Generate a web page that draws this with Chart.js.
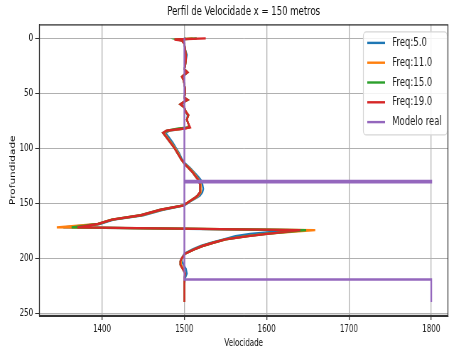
<!DOCTYPE html>
<html>
<head>
<meta charset="utf-8">
<script src="https://cdn.jsdelivr.net/npm/chart.js@4.4.0/dist/chart.umd.min.js"></script>
<style>
  html, body { margin: 0; padding: 0; background: #fff; overflow: hidden; }
  /* the reference figure is horizontally squeezed; draw wide and compress */
  canvas { display: block; transform: scaleX(0.7104); transform-origin: 0 0; }
</style>
</head>
<body>
<canvas id="perfilChart" width="632" height="352"></canvas>
<script>
// Depth samples (shared by the inverted profiles)
const depth = [0, 1, 2, 5, 10, 15, 20, 25, 28, 31, 33, 35, 38, 42, 46, 50, 54, 56, 58, 60,
    63, 67, 70, 74, 78, 81, 82, 84, 86, 90, 95, 100, 105, 110, 114, 118, 122, 126, 129, 133,
    137, 140, 143, 145, 148, 152, 156, 161, 165, 169, 172, 174.5, 178, 180, 183, 186, 189, 192, 196, 200,
    203, 206, 210, 214, 218, 225, 232, 240];

const velF5 = [1502, 1498, 1499, 1500, 1501, 1503, 1502, 1501, 1500, 1503, 1501, 1498, 1499, 1500, 1501, 1501, 1500, 1503, 1500, 1497,
    1500, 1502, 1504, 1503, 1505, 1505, 1500, 1482, 1477, 1481, 1486, 1490, 1494, 1497, 1501, 1507, 1512, 1517, 1520, 1522,
    1523, 1522, 1519, 1515, 1508, 1500, 1474, 1450, 1414, 1397, 1353, 1630, 1580, 1562, 1548, 1533, 1520, 1510, 1500, 1497,
    1497, 1499, 1502, 1503, 1501, 1500, 1500, 1500];

const velF11 = [1510, 1494, 1498, 1500, 1501, 1502, 1502, 1501, 1500, 1503, 1500, 1497, 1499, 1500, 1501, 1501, 1500, 1503, 1499, 1496,
    1500, 1502, 1505, 1503, 1505, 1506, 1500, 1480, 1475, 1479, 1484, 1489, 1493, 1496, 1500, 1506, 1511, 1515, 1518, 1520,
    1520, 1520, 1517, 1514, 1507, 1499, 1472, 1448, 1412, 1395, 1345, 1659, 1598, 1576, 1550, 1535, 1522, 1512, 1501, 1497,
    1496, 1496, 1499, 1501, 1500, 1500, 1500, 1500];

const velF15 = [1515, 1492, 1497, 1500, 1501, 1502, 1502, 1501, 1500, 1504, 1500, 1497, 1499, 1500, 1501, 1501, 1500, 1504, 1499, 1495,
    1500, 1502, 1505, 1503, 1505, 1506, 1493, 1479, 1474, 1478, 1483, 1488, 1492, 1496, 1500, 1505, 1510, 1514, 1517, 1519,
    1519, 1519, 1516, 1513, 1507, 1499, 1471, 1447, 1412, 1395, 1363, 1648, 1600, 1577, 1550, 1535, 1522, 1512, 1501, 1497,
    1495, 1495, 1498, 1501, 1500, 1500, 1500, 1500];

const velF19 = [1526, 1488, 1497, 1500, 1501, 1502, 1502, 1501, 1500, 1504, 1500, 1497, 1499, 1500, 1501, 1501, 1500, 1504, 1499, 1495,
    1500, 1502, 1505, 1503, 1505, 1507, 1500, 1478, 1474, 1478, 1483, 1488, 1492, 1496, 1500, 1505, 1510, 1514, 1517, 1519,
    1519, 1519, 1516, 1513, 1507, 1499, 1471, 1447, 1412, 1395, 1370, 1641, 1601, 1578, 1550, 1535, 1522, 1512, 1501, 1497,
    1495, 1495, 1498, 1501, 1500, 1500, 1500, 1500];

// True model
const modelDepth = [0, 129.8, 129.8, 131, 131, 219.5, 219.5, 240];
const modelVel = [1500, 1500, 1800, 1800, 1500, 1500, 1800, 1800];

const xTicks = [1400, 1500, 1600, 1700, 1800];
const yTicks = [0, 50, 100, 150, 200, 250];

const font = "'DejaVu Sans', sans-serif";

function toPoints(vel, dep) {
    return vel.map((v, i) => ({ x: v, y: dep[i] }));
}

// order: lower number is drawn on top
function series(label, vel, dep, color, order) {
    return {
        label: label,
        data: toPoints(vel, dep),
        borderColor: color,
        backgroundColor: color,
        borderWidth: 2.4,
        pointRadius: 0,
        showLine: true,
        tension: 0,
        order: order
    };
}

// frame + legend drawn over the plot, like matplotlib
const framePlugin = {
    id: 'frame',
    afterDatasetsDraw(chart) {
        const { ctx, chartArea: a } = chart;
        ctx.save();
        ctx.strokeStyle = '#333';
        ctx.lineWidth = 1.3;
        ctx.strokeRect(a.left + 0.5, a.top + 0.5, a.right - a.left - 1, a.bottom - a.top - 1);

        // legend box
        const bx = a.right - 120, by = a.top + 7, bw = 118, bh = 103;
        ctx.fillStyle = 'rgba(255,255,255,0.85)';
        ctx.strokeStyle = '#d6d6d6';
        ctx.lineWidth = 1.2;
        ctx.beginPath();
        ctx.roundRect(bx + 0.5, by + 0.5, bw, bh, 4);
        ctx.fill();
        ctx.stroke();
        ctx.font = '12px ' + font;
        ctx.textBaseline = 'middle';
        chart.data.datasets.forEach((ds, i) => {
            const y = by + 11.5 + i * 19.8;
            ctx.strokeStyle = ds.borderColor;
            ctx.lineWidth = 2.4;
            ctx.beginPath();
            ctx.moveTo(bx + 6, y);
            ctx.lineTo(bx + 31, y);
            ctx.stroke();
            ctx.fillStyle = '#222';
            ctx.fillText(ds.label, bx + 41, y);
        });
        ctx.restore();
    }
};

function createChart() {
    const ctx = document.getElementById('perfilChart').getContext('2d');
    new Chart(ctx, {
        type: 'scatter',
        data: {
            datasets: [
                series('Freq:5.0', velF5, depth, '#1f77b4', 5),
                series('Freq:11.0', velF11, depth, '#ff7f0e', 4),
                series('Freq:15.0', velF15, depth, '#2ca02c', 3),
                series('Freq:19.0', velF19, depth, '#d62728', 2),
                series('Modelo real', modelVel, modelDepth, '#9467bd', 1)
            ]
        },
        options: {
            responsive: false,
            animation: false,
            devicePixelRatio: 1,
            layout: { padding: { right: 1 } },
            plugins: {
                legend: { display: false },
                tooltip: { enabled: false },
                title: {
                    display: true,
                    fullSize: false,
                    text: 'Perfil de Velocidade x = 150 metros',
                    color: '#111',
                    font: { family: font, size: 12, weight: 'normal' },
                    padding: { top: 5, bottom: 5 }
                }
            },
            scales: {
                x: {
                    type: 'linear',
                    min: 1323.5,
                    max: 1820.7,
                    afterBuildTicks: s => { s.ticks = xTicks.map(v => ({ value: v })); },
                    afterFit: s => { s.height = 36; },
                    grid: { color: '#b0b0b0', tickColor: '#333', tickLength: 4, lineWidth: 1.3 },
                    border: { color: '#333' },
                    ticks: { color: '#222', font: { family: font, size: 10 }, padding: 3, maxRotation: 0,
                        callback: v => String(v) },
                    title: {
                        display: true, text: 'Velocidade', color: '#111',
                        font: { family: font, size: 10 }, padding: { top: 0, bottom: 3 }
                    }
                },
                y: {
                    type: 'linear',
                    reverse: true,
                    min: -12.7,
                    max: 252.7,
                    afterBuildTicks: s => { s.ticks = yTicks.map(v => ({ value: v })); },
                    afterFit: s => { s.width = 55; },
                    grid: { color: '#b0b0b0', tickColor: '#333', tickLength: 5.5 },
                    border: { color: '#333' },
                    ticks: { color: '#222', font: { family: font, size: 10 }, padding: 3,
                        callback: v => String(v) },
                    title: {
                        display: true, text: 'Profundidade', color: '#111',
                        font: { family: font, size: 10.5 }, padding: { top: 12 }
                    }
                }
            }
        },
        plugins: [framePlugin]
    });
}

document.addEventListener('DOMContentLoaded', createChart);
</script>
</body>
</html>
